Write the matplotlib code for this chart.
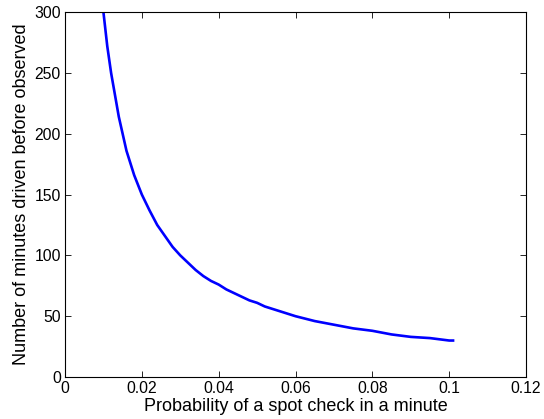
import matplotlib
matplotlib.use("Agg")
import matplotlib.pyplot as plt

# values
p = [0.010, 0.011, 0.012, 0.013, 0.014, 0.015, 0.016, 0.017, 0.018, 0.019,
     0.020, 0.022, 0.024, 0.026, 0.028, 0.030, 0.032, 0.034, 0.036, 0.038,
     0.040, 0.042, 0.044, 0.046, 0.048, 0.050, 0.052, 0.054, 0.056, 0.058,
     0.060, 0.065, 0.070, 0.075, 0.080, 0.085, 0.090, 0.095, 0.100, 0.101]
minutes = [300, 272, 250, 232, 214, 200, 186, 176, 166, 158,
           150, 137, 125, 116, 107, 100, 94, 88, 83, 79,
           76, 72, 69, 66, 63, 61, 58, 56, 54, 52,
           50, 46, 43, 40, 38, 35, 33, 32, 30, 30]

xticks = [0, 0.02, 0.04, 0.06, 0.08, 0.1, 0.12]
xticklabels = ["0", "0.02", "0.04", "0.06", "0.08", "0.1", "0.12"]
yticks = [0, 50, 100, 150, 200, 250, 300]

plt.rcParams["font.family"] = ["Liberation Sans", "DejaVu Sans"]

fig = plt.figure(figsize=(5.44, 4.19), dpi=100)
ax = fig.add_axes([0.1195, 0.1002, 0.8475, 0.8708])
ax.plot(p, minutes, color="#0000ff", linewidth=1.9)

ax.set_xlim(0, 0.12)
ax.set_ylim(0, 300)
ax.set_xticks(xticks)
ax.set_xticklabels(xticklabels)
ax.set_yticks(yticks)
ax.tick_params(direction="in", top=True, right=True, labelsize=11.3, length=4, width=0.6, pad=3)
for s in ax.spines.values():
    s.set_linewidth(0.8)

ax.set_xlabel("Probability of a spot check in a minute", fontsize=13, labelpad=1)
ax.set_ylabel("Number of minutes driven before observed", fontsize=13, labelpad=3)

fig.savefig("out.png", dpi=100)
